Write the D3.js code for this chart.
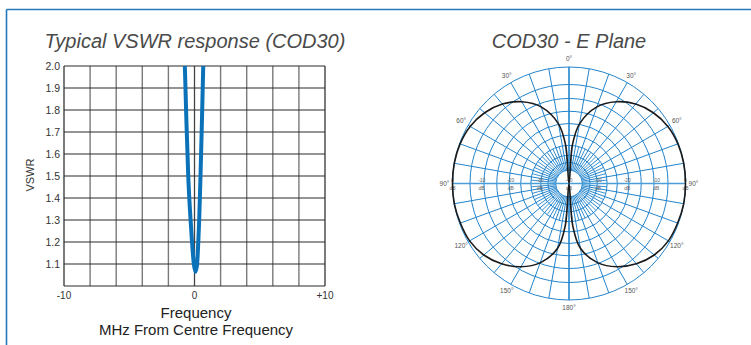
<!DOCTYPE html>
<html>
<head>
<meta charset="utf-8">
<script src="https://cdn.jsdelivr.net/npm/d3@7"></script>
<style>
  html, body { margin: 0; padding: 0; background: #fff; }
  svg { display: block; }
</style>
</head>
<body>
<svg id="chart" width="751" height="345"></svg>
<script>
// ---------- DATA ----------
// VSWR chart
const freqMHz = [-0.74, -0.62, -0.48, -0.30, -0.19, -0.05, 0.08, 0.20, 0.29, 0.36, 0.46, 0.57, 0.67];
const vswr    = [ 2.00,  1.75,  1.50,  1.30,  1.20,  1.10, 1.065, 1.10, 1.20, 1.30, 1.50, 1.75, 2.00];
const xGridValues = [-10, -8, -6, -4, -2, 0, 2, 4, 6, 8, 10];
const xTickValues = [-10, 0, 10];
const xTickLabels = ["-10", "0", "+10"];
const yTickValues = [1.1, 1.2, 1.3, 1.4, 1.5, 1.6, 1.7, 1.8, 1.9, 2.0];
const yGridValues = [1.0, 1.1, 1.2, 1.3, 1.4, 1.5, 1.6, 1.7, 1.8, 1.9, 2.0];

// E-plane pattern (angle in degrees, level in dB)
const patternAngles = [0, 5, 10, 20, 30, 40, 50, 60, 70, 80, 90, 100, 110, 120, 130, 140, 150, 160, 170, 175,
                       180, 185, 190, 200, 210, 220, 230, 240, 250, 260, 270, 280, 290, 300, 310, 320, 330, 340, 350, 355];
const patternDb     = [-40, -26.8, -19.2, -12.0, -7.6, -4.4, -2.2, -0.8, -0.2, 0, 0, 0, -0.3, -0.6, -1.8, -4.0, -7.0, -11.0, -17.4, -25.6,
                       -40, -25.6, -17.4, -11.0, -7.0, -4.0, -1.8, -0.6, -0.3, 0, 0, 0, -0.2, -0.8, -2.2, -4.4, -7.6, -12.0, -19.2, -26.8];
const ringDb = [0, -6, -10.8, -15.2, -19.4, -23.4, -26.9, -30.3, -32.8, -35.4];
const spokeAngles = [0, 10, 20, 30, 40, 50, 60, 70, 80, 90, 100, 110, 120, 130, 140, 150, 160, 170,
                     180, 190, 200, 210, 220, 230, 240, 250, 260, 270, 280, 290, 300, 310, 320, 330, 340, 350];
const innerSpokeAngles = [5, 15, 25, 35, 45, 55, 65, 75, 85, 95, 105, 115, 125, 135, 145, 155, 165, 175,
                          185, 195, 205, 215, 225, 235, 245, 255, 265, 275, 285, 295, 305, 315, 325, 335, 345, 355];
const angleLabelValues = [0, 30, 60, 90, 120, 150, 180, 210, 240, 270, 300, 330];
const angleLabelTexts  = ["0°", "30°", "60°", "90°", "120°", "150°", "180°", "150°", "120°", "90°", "60°", "30°"];
const dbLabelValues = [0, -10, -20, -30, -40];

const leftTitle = "Typical VSWR response (COD30)";
const rightTitle = "COD30 - E Plane";

// ---------- DRAW ----------
const svg = d3.select("#chart");

// outer frame
svg.append("line").attr("x1", 6.5).attr("x2", 751).attr("y1", 9.5).attr("y2", 9.5)
  .attr("stroke", "#2479bd").attr("stroke-width", 1.6);
svg.append("line").attr("x1", 6.5).attr("x2", 6.5).attr("y1", 9.5).attr("y2", 345)
  .attr("stroke", "#2479bd").attr("stroke-width", 1.6);

// ---- VSWR chart ----
const x = d3.scaleLinear().domain([-10, 10]).range([64, 325]);
const y = d3.scaleLinear().domain([1.0, 2.0]).range([286, 66]);

svg.append("text").attr("x", 195).attr("y", 48).attr("text-anchor", "middle")
  .attr("font-family", "Liberation Sans, Arial, sans-serif").attr("font-style", "italic")
  .attr("font-size", 20).attr("fill", "#4a4a4a").text(leftTitle);

const g = svg.append("g");
g.selectAll(".vg").data(xGridValues).join("line")
  .attr("x1", d => x(d)).attr("x2", d => x(d)).attr("y1", y(2.0)).attr("y2", y(1.0))
  .attr("stroke", d => (d === -10 || d === 10) ? "#222" : "#7a7a7a")
  .attr("stroke-width", d => (d === -10 || d === 10) ? 1.2 : 1.4);
g.selectAll(".hg").data(yGridValues).join("line")
  .attr("x1", x(-10)).attr("x2", x(10)).attr("y1", d => y(d)).attr("y2", d => y(d))
  .attr("stroke", "#2a2a2a").attr("stroke-width", 1.2);
g.append("line").attr("x1", x(0)).attr("x2", x(0)).attr("y1", y(2.0)).attr("y2", y(1.0))
  .attr("stroke", "#333").attr("stroke-width", 0.8);

svg.selectAll(".yt").data(yTickValues).join("text")
  .attr("x", 60).attr("y", d => y(d) + 4).attr("text-anchor", "end")
  .attr("font-family", "Liberation Sans, Arial, sans-serif").attr("font-size", 10.5).attr("fill", "#333")
  .text(d => d3.format(".1f")(d));
svg.selectAll(".xt").data(xTickValues).join("text")
  .attr("x", d => x(d)).attr("y", 299).attr("text-anchor", "middle")
  .attr("font-family", "Liberation Sans, Arial, sans-serif").attr("font-size", 10).attr("fill", "#333")
  .text((d, i) => xTickLabels[i]);

svg.append("text").attr("transform", "translate(34,175) rotate(-90)").attr("text-anchor", "middle")
  .attr("font-family", "Liberation Sans, Arial, sans-serif").attr("font-size", 11).attr("fill", "#333").text("VSWR");
svg.append("text").attr("x", 196).attr("y", 318).attr("text-anchor", "middle")
  .attr("font-family", "Liberation Sans, Arial, sans-serif").attr("font-size", 15).attr("fill", "#222").text("Frequency");
svg.append("text").attr("x", 196).attr("y", 335).attr("text-anchor", "middle")
  .attr("font-family", "Liberation Sans, Arial, sans-serif").attr("font-size", 15).attr("fill", "#222").text("MHz From Centre Frequency");

svg.append("clipPath").attr("id", "plotclip").append("rect")
  .attr("x", x(-10)).attr("y", y(2.0)).attr("width", x(10) - x(-10)).attr("height", y(1.0) - y(2.0));
const vsLine = d3.line().x(d => x(d[0])).y(d => y(d[1])).curve(d3.curveMonotoneX);
svg.append("path").attr("clip-path", "url(#plotclip)")
  .datum(freqMHz.map((f, i) => [f, vswr[i]]))
  .attr("d", vsLine).attr("fill", "none").attr("stroke", "#0b72b9").attr("stroke-width", 4);

// ---- Polar chart ----
const cx = 569, cy = 183.5, R = 116.5;
const r = d3.scaleLinear().domain([-40, 0]).range([0, R]);
const pg = svg.append("g").attr("transform", `translate(${cx},${cy})`);
const rad = a => a * Math.PI / 180;
const px = (a, rr) => rr * Math.sin(rad(a));
const py = (a, rr) => -rr * Math.cos(rad(a));

svg.append("text").attr("x", cx).attr("y", 48).attr("text-anchor", "middle")
  .attr("font-family", "Liberation Sans, Arial, sans-serif").attr("font-style", "italic")
  .attr("font-size", 20).attr("fill", "#4a4a4a").text(rightTitle);

const blue = "#2384cc";
pg.selectAll(".ring").data(ringDb).join("circle")
  .attr("r", d => r(d)).attr("fill", "none").attr("stroke", blue).attr("stroke-width", 1.0);
const innerR = r(ringDb[ringDb.length - 1]);
pg.selectAll(".spoke").data(spokeAngles).join("line")
  .attr("x1", d => px(d, innerR)).attr("y1", d => py(d, innerR))
  .attr("x2", d => px(d, R)).attr("y2", d => py(d, R))
  .attr("stroke", blue).attr("stroke-width", 1.0);
const midR = r(ringDb[6]);
pg.selectAll(".ispoke").data(innerSpokeAngles).join("line")
  .attr("x1", d => px(d, innerR)).attr("y1", d => py(d, innerR))
  .attr("x2", d => px(d, midR)).attr("y2", d => py(d, midR))
  .attr("stroke", blue).attr("stroke-width", 0.9);
// main axes
pg.append("line").attr("x1", -R).attr("x2", R).attr("y1", 0).attr("y2", 0)
  .attr("stroke", "#4a9fd8").attr("stroke-width", 1.6);
pg.append("line").attr("x1", 0).attr("x2", 0).attr("y1", -R).attr("y2", R)
  .attr("stroke", blue).attr("stroke-width", 1.2);

// dB labels along horizontal axis
const dbPts = [];
dbLabelValues.forEach(v => { dbPts.push({v, s: 1}); if (v !== -40) dbPts.push({v, s: -1}); });
pg.selectAll(".dbv").data(dbPts).join("text")
  .attr("x", d => d.s * r(d.v)).attr("y", -1.5).attr("text-anchor", "middle")
  .attr("font-family", "Liberation Sans, Arial, sans-serif").attr("font-size", 5).attr("fill", "#666")
  .text(d => d.v);
pg.selectAll(".dbu").data(dbPts).join("text")
  .attr("x", d => d.s * r(d.v)).attr("y", 6).attr("text-anchor", "middle")
  .attr("font-family", "Liberation Sans, Arial, sans-serif").attr("font-size", 5).attr("fill", "#666")
  .text("dB");

// pattern
const pat = patternAngles.map((a, i) => [rad(a), r(patternDb[i])]);
const radial = d3.lineRadial().angle(d => d[0]).radius(d => d[1]).curve(d3.curveCatmullRomClosed.alpha(0.5));
pg.append("path").datum(pat).attr("d", radial).attr("fill", "none")
  .attr("stroke", "#1a1a1a").attr("stroke-width", 1.6);

// angle labels
pg.selectAll(".al").data(angleLabelValues).join("text")
  .attr("x", d => px(d, 124.5)).attr("y", d => py(d, 124.5) + 2)
  .attr("text-anchor", "middle")
  .attr("font-family", "Liberation Sans, Arial, sans-serif").attr("font-size", 6.5).attr("fill", "#555")
  .text((d, i) => angleLabelTexts[i]);
</script>
</body>
</html>
